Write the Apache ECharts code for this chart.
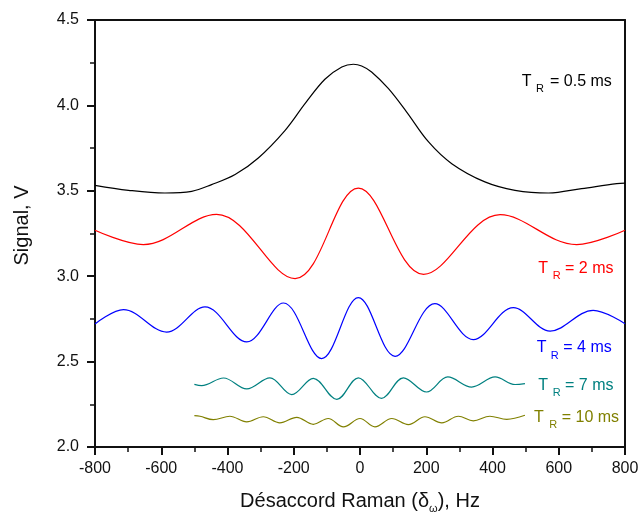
<!DOCTYPE html>
<html><head><meta charset="utf-8">
<script src="https://cdn.jsdelivr.net/npm/echarts@6/dist/echarts.min.js"></script>
<style>html,body{margin:0;padding:0;background:#fff}#c{width:638px;height:513px}</style>
</head><body><div id="c"></div>
<script>
// ---- data (x in Hz, y in V) ----
const tr05_x = [-800,-699,-589,-508,-448,-377,-307,-226,-166,-106,-55,-20,5,35,86,141,207,277,377,468,569,669,775,800];
const tr05_y = [3.532,3.503,3.487,3.497,3.536,3.595,3.692,3.854,4.010,4.153,4.225,4.241,4.231,4.196,4.098,3.961,3.786,3.659,3.552,3.503,3.487,3.513,3.542,3.545];

const tr2_x = [-800,-654,-433,-196,-5,192,423,654,800];
const tr2_y = [3.269,3.185,3.362,2.986,3.516,3.011,3.360,3.185,3.269];

const tr4_x = [-800,-714,-584,-468,-342,-231,-116,-5,106,226,342,463,574,704,800];
const tr4_y = [2.720,2.804,2.673,2.820,2.615,2.843,2.518,2.875,2.531,2.839,2.629,2.816,2.679,2.800,2.722];

const tr7_x = [-500,-478,-412,-342,-272,-206,-141,-70,-5,65,131,201,265,337,408,468,498];
const tr7_y = [2.367,2.359,2.404,2.340,2.405,2.307,2.402,2.279,2.405,2.285,2.405,2.322,2.410,2.351,2.410,2.366,2.371];

const tr10_x = [-500,-483,-443,-393,-342,-292,-242,-191,-141,-96,-50,0,45,96,146,196,247,297,342,392,443,498];
const tr10_y = [2.184,2.180,2.160,2.180,2.147,2.177,2.141,2.174,2.133,2.167,2.118,2.167,2.118,2.167,2.131,2.177,2.141,2.180,2.153,2.180,2.162,2.186];

const seriesNames = ['T_R = 0.5 ms','T_R = 2 ms','T_R = 4 ms','T_R = 7 ms','T_R = 10 ms'];
const labelTails = ['= 0.5 ms','= 2 ms','= 4 ms','= 7 ms','= 10 ms'];
const colors = ['#000000','#ff0000','#0000ff','#008080','#808000'];

const FONT = '"Liberation Sans", Arial, sans-serif';
const xs = [tr05_x, tr2_x, tr4_x, tr7_x, tr10_x];
const ys = [tr05_y, tr2_y, tr4_y, tr7_y, tr10_y];

const series = xs.map((xArr, k) => ({
  name: seriesNames[k], type: 'line', showSymbol: false, smooth: 0.36,
  lineStyle: { color: colors[k], width: 1.2 },
  data: xArr.map((x, i) => [x, ys[k][i]]),
  animation: false
}));

// label layout: [T left x, cap-centre y, R left x, '=' left x]
const labelPos = [
  [521.7, 81.3, 536.0, 550.0],
  [538.3, 268.7, 552.7, 565.0],
  [536.7, 348.0, 550.7, 563.3],
  [538.3, 385.8, 552.7, 565.0],
  [534.0, 417.5, 549.3, 561.7]
];
const graphic = [];
labelPos.forEach((p, k) => {
  graphic.push({ type: 'text', x: p[0], y: p[1], style: { text: 'T', fill: colors[k], font: '16px ' + FONT, verticalAlign: 'middle', align: 'left' } });
  graphic.push({ type: 'text', x: p[2], y: p[1] + 7.5, style: { text: 'R', fill: colors[k], font: '11px ' + FONT, verticalAlign: 'middle', align: 'left' } });
  graphic.push({ type: 'text', x: p[3], y: p[1], style: { text: labelTails[k], fill: colors[k], font: '16px ' + FONT, verticalAlign: 'middle', align: 'left' } });
});

const axisCol = '#111';
const chart = echarts.init(document.getElementById('c'), null, { renderer: 'canvas' });
chart.setOption({
  animation: false,
  backgroundColor: '#fff',
  grid: { left: 95, right: 13, top: 20, bottom: 66, outerBoundsMode: 'none', containLabel: false },
  xAxis: [{
    type: 'value', min: -800, max: 800, interval: 200,
    name: '{a|Désaccord Raman (δ}{s|ω}{a|), Hz}', nameLocation: 'middle', nameGap: 42,
    nameTextStyle: { rich: { a: { fontSize: 20, fontFamily: FONT, color: '#111' }, s: { fontSize: 11, fontFamily: FONT, color: '#111', padding: [14, 0, 0, 0] } } },
    axisLine: { show: true, onZero: false, lineStyle: { color: axisCol, width: 2 } },
    axisTick: { show: true, length: 8, lineStyle: { color: axisCol, width: 2 } },
    minorTick: { show: true, splitNumber: 2, length: 5, lineStyle: { color: axisCol, width: 1.5 } },
    axisLabel: { fontSize: 16, fontFamily: FONT, color: '#111', margin: 14 },
    splitLine: { show: false }
  }, {
    type: 'value', min: -800, max: 800, position: 'top',
    axisLine: { show: true, onZero: false, lineStyle: { color: axisCol, width: 2 } },
    axisTick: { show: false }, axisLabel: { show: false }, splitLine: { show: false }
  }],
  yAxis: [{
    type: 'value', min: 2.0, max: 4.5, interval: 0.5,
    name: 'Signal, V', nameLocation: 'middle', nameGap: 63,
    nameTextStyle: { fontSize: 20, fontFamily: FONT, color: '#111', padding: [0, 0, 0, 16] },
    axisLine: { show: true, onZero: false, lineStyle: { color: axisCol, width: 2 } },
    axisTick: { show: true, length: 8, lineStyle: { color: axisCol, width: 2 } },
    minorTick: { show: true, splitNumber: 2, length: 5, lineStyle: { color: axisCol, width: 1.5 } },
    axisLabel: { fontSize: 16, fontFamily: FONT, color: '#111', margin: 16, formatter: v => v.toFixed(1) },
    splitLine: { show: false }
  }, {
    type: 'value', min: 2.0, max: 4.5, position: 'right',
    axisLine: { show: true, onZero: false, lineStyle: { color: axisCol, width: 2 } },
    axisTick: { show: false }, axisLabel: { show: false }, splitLine: { show: false }
  }],
  series: series,
  graphic: graphic
});
</script>
</body></html>
